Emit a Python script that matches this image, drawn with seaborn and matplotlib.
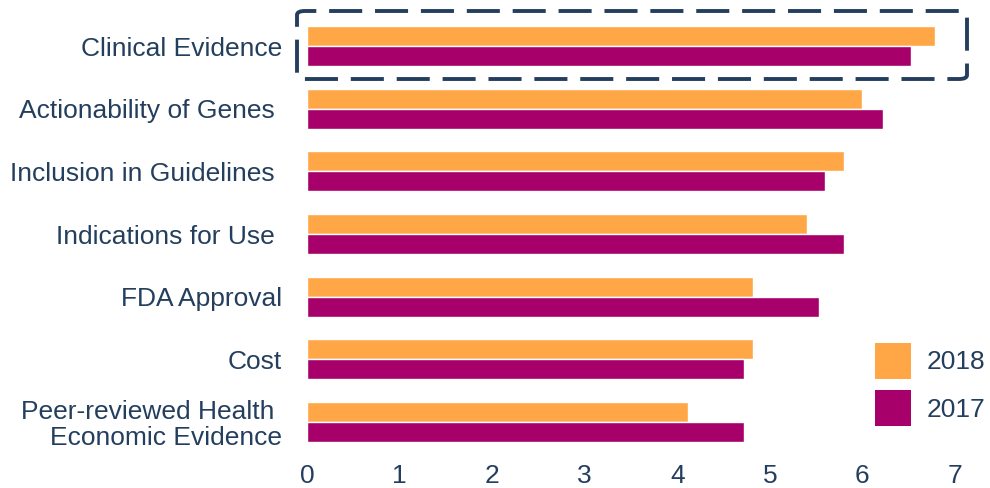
import matplotlib
matplotlib.use("Agg")
import matplotlib.pyplot as plt
import seaborn as sns
import pandas as pd
from matplotlib.patches import FancyBboxPatch

categories = ["Clinical Evidence", "Actionability of Genes ", "Inclusion in Guidelines ",
              "Indications for Use ", "FDA Approval", "Cost",
              "Peer-reviewed Health \nEconomic Evidence"]
values_2018 = [6.78, 6.00, 5.80, 5.40, 4.82, 4.82, 4.12]
values_2017 = [6.53, 6.22, 5.60, 5.80, 5.53, 4.72, 4.72]
series = ["2018", "2017"]
x_ticks = [0, 1, 2, 3, 4, 5, 6, 7]

TEXT = "#243F5E"
ORANGE = "#FFA646"
MAGENTA = "#A8006A"
FS = 19

df = pd.DataFrame({
    "category": categories * 2,
    "year": [series[0]] * len(categories) + [series[1]] * len(categories),
    "value": values_2018 + values_2017,
})

sns.set_theme(style="white")
plt.rcParams["font.family"] = ["Liberation Sans", "DejaVu Sans"]

fig = plt.figure(figsize=(9.9, 4.88), dpi=100)
ax = fig.add_axes([307 / 990, 1 - 453 / 488, (955 - 307) / 990, (453 - 15) / 488])

sns.barplot(data=df, y="category", x="value", hue="year", hue_order=series,
            order=categories, palette=[ORANGE, MAGENTA], saturation=1, orient="h",
            width=0.64, edgecolor="white", linewidth=1.0, ax=ax, legend=True)

ax.set_xlim(0, 7)
ax.set_ylim(len(categories) - 0.5, -0.5)
ax.set_xticks(x_ticks)
ax.set_xticklabels([str(t) for t in x_ticks])
ax.set_xlabel("")
ax.set_ylabel("")
for s in ax.spines.values():
    s.set_visible(False)
ax.tick_params(axis="both", length=0, colors=TEXT, labelsize=FS)
ax.tick_params(axis="x", pad=8)
ax.tick_params(axis="y", pad=18)
for lbl in ax.get_yticklabels():
    lbl.set_color(TEXT)
    lbl.set_horizontalalignment("right")
    lbl.set_multialignment("right")
    lbl.set_linespacing(1.1)

handles, labels = ax.get_legend_handles_labels()
leg = ax.legend(handles, labels, loc="upper left", bbox_to_anchor=(0.876, 0.252),
                frameon=False, fontsize=FS, handlelength=1.363, handleheight=1.72,
                labelspacing=0.45, handletextpad=0.6, borderpad=0, borderaxespad=0,
                labelcolor=TEXT)
for h in leg.legend_handles:
    h.set_linewidth(0)

# dashed highlight box around the first category
box = FancyBboxPatch((297 / 990, 1 - 79 / 488), (967 - 297) / 990, (79 - 11) / 488,
                     boxstyle="round,pad=0,rounding_size=0.008",
                     transform=fig.transFigure, fill=False, edgecolor=TEXT,
                     linewidth=2.8, linestyle=(0, (8.5, 3.3)), capstyle="butt",
                     clip_on=False)
fig.patches.append(box)

fig.savefig("out.png", dpi=100)
